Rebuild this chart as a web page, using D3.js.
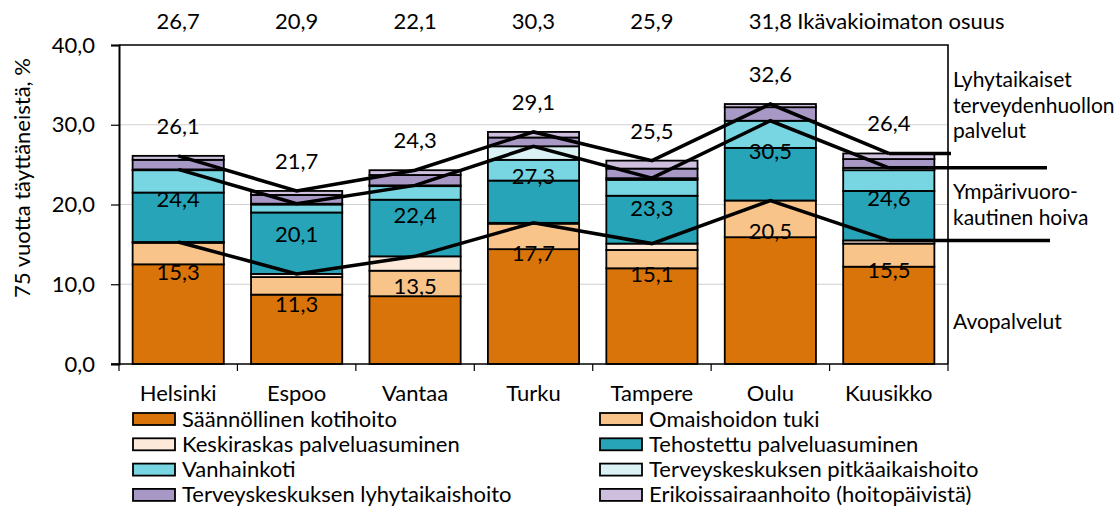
<!DOCTYPE html>
<html>
<head>
<meta charset="utf-8">
<script src="https://cdn.jsdelivr.net/npm/d3@7"></script>
<style>
  body { margin: 0; background: #fff; }
  svg text { font-family: Lato, "Open Sans", sans-serif; fill: #000; }
</style>
</head>
<body>
<svg width="1120" height="506"></svg>
<script>

// data (% of population aged 75+)

var cities = ["Helsinki", "Espoo", "Vantaa", "Turku", "Tampere", "Oulu", "Kuusikko"]

var kotihoito    = [12.5, 8.7, 8.5, 14.4, 12.0, 15.9, 12.2]
var omaishoito   = [2.7, 2.2, 3.2, 3.2, 2.3, 4.6, 2.9]
var keskiraskas  = [0.1, 0.4, 1.8, 0.1, 0.8, 0.0, 0.4]
var tehostettu   = [6.2, 7.7, 7.1, 5.3, 6.0, 6.6, 6.2]
var vanhainkoti  = [2.8, 1.0, 1.7, 2.6, 2.0, 3.4, 2.6]
var tk_pitka     = [0.1, 0.1, 0.1, 1.7, 0.2, 0.0, 0.3]
var tk_lyhyt     = [1.2, 1.1, 1.3, 1.1, 1.2, 1.7, 1.1]
var erikois      = [0.5, 0.5, 0.6, 0.7, 1.0, 0.4, 0.7]

// unadjusted share, shown above the plot (no value for Kuusikko)
var unadjusted = [26.7, 20.9, 22.1, 30.3, 25.9, 31.8]

var yTicks = [0, 10, 20, 30, 40]

var seriesNames = [
  "Säännöllinen kotihoito", "Omaishoidon tuki",
  "Keskiraskas palveluasuminen", "Tehostettu palveluasuminen",
  "Vanhainkoti", "Terveyskeskuksen pitkäaikaishoito",
  "Terveyskeskuksen lyhytaikaishoito", "Erikoissairaanhoito (hoitopäivistä)"
]
var seriesValues = [kotihoito, omaishoito, keskiraskas, tehostettu, vanhainkoti, tk_pitka, tk_lyhyt, erikois]
var colors = ["#d8740a", "#f8c48a", "#fde9da", "#27a4b7", "#78d6e2", "#dbf2f4", "#a898c6", "#cdbfdd"]

var fmt = function(v){ return v.toFixed(1).replace(".", ",") }

// build rows for d3.stack
var rows = cities.map(function(c, i){
  var r = {city: c}
  seriesNames.forEach(function(s, j){ r[s] = seriesValues[j][i] })
  return r
})

var stacked = d3.stack().keys(seriesNames)(rows)

// cumulative lines: avopalvelut (first 3), ympärivuorokautinen hoiva (first 6), total (all 8)
var lineDefs = [
  {upTo: 2, below: true, extEnd: 1050},
  {upTo: 5, below: true, extEnd: 1047},
  {upTo: 7, below: false, extEnd: 951}
]

var svg = d3.select("svg")

var plotL = 119, plotR = 948, plotT = 45, plotB = 364

var x = d3.scaleBand().domain(cities).range([plotL, plotR]).paddingInner(0.23).paddingOuter(0.115)
var y = d3.scaleLinear().domain([0, 40]).range([plotB, plotT])

// gridlines
svg.append("g").selectAll("line").data(yTicks.filter(function(d){ return d > 0 && d < 40 }))
  .enter().append("line")
    .attr("x1", plotL).attr("x2", plotR)
    .attr("y1", function(d){ return y(d) }).attr("y2", function(d){ return y(d) })
    .style("stroke", "#d0d0d0").style("stroke-width", 1.2)

// bars
svg.append("g").selectAll("g").data(stacked).enter().append("g")
    .style("fill", function(d, i){ return colors[i] })
  .selectAll("rect").data(function(d){ return d }).enter().append("rect")
    .attr("x", function(d){ return x(d.data.city) })
    .attr("width", x.bandwidth())
    .attr("y", function(d){ return y(d[1]) })
    .attr("height", function(d){ return y(d[0]) - y(d[1]) })
    .style("stroke", "#000").style("stroke-width", 1.8)

// frame
svg.append("path")
  .attr("d", "M" + plotL + "," + plotT + "H" + plotR + "V" + plotB)
  .style("fill", "none").style("stroke", "#000").style("stroke-width", 1.6)

// y axis
var yAxis = svg.append("g").attr("transform", "translate(" + plotL + ",0)")
  .call(d3.axisLeft(y).tickValues(yTicks).tickSize(8).tickFormat(fmt))
yAxis.select(".domain").style("stroke", "#000").style("stroke-width", 2)
yAxis.selectAll(".tick line").style("stroke", "#000").style("stroke-width", 1.2)
yAxis.selectAll(".tick text").attr("x", -24).style("font-size", "22px").style("font-family", "Lato")

// x axis with ticks between categories
var xAxis = svg.append("g").attr("transform", "translate(0," + plotB + ")")
xAxis.append("line").attr("x1", plotL - 8).attr("x2", plotR)
  .style("stroke", "#000").style("stroke-width", 1.6)
xAxis.selectAll(".sep").data(d3.range(cities.length + 1)).enter().append("line")
    .attr("class", "sep")
    .attr("x1", function(i){ return plotL + i * x.step() })
    .attr("x2", function(i){ return plotL + i * x.step() })
    .attr("y1", 0).attr("y2", 7)
    .style("stroke", "#000").style("stroke-width", 1.2)
xAxis.selectAll(".lbl").data(cities).enter().append("text")
    .attr("class", "lbl")
    .attr("x", function(d){ return x(d) + x.bandwidth() / 2 })
    .attr("y", 37)
    .attr("text-anchor", "middle")
    .style("font-size", "22px")
    .text(function(d){ return d })

// y title
svg.append("text")
  .attr("transform", "translate(30,178) rotate(-90)")
  .attr("text-anchor", "middle")
  .style("font-size", "22px")
  .text("75 vuotta täyttäneistä, %")

// cumulative lines + labels
var cx = function(c){ return x(c) + x.bandwidth() / 2 }

lineDefs.forEach(function(ld){
  var pts = stacked[ld.upTo].map(function(d){ return {city: d.data.city, v: d[1]} })
  var path = d3.line().x(function(d){ return cx(d.city) }).y(function(d){ return y(d.v) })
  svg.append("path").datum(pts)
    .attr("d", path)
    .style("fill", "none").style("stroke", "#000").style("stroke-width", 3.5)
    .style("stroke-linejoin", "miter")
  var last = pts[pts.length - 1]
  svg.append("line")
    .attr("x1", cx(last.city)).attr("x2", ld.extEnd)
    .attr("y1", y(last.v)).attr("y2", y(last.v))
    .style("stroke", "#000").style("stroke-width", 3.5)
  svg.append("g").selectAll("text").data(pts).enter().append("text")
    .attr("x", function(d){ return cx(d.city) })
    .attr("y", function(d){ return ld.below ? y(d.v) + 38 : y(d.v) - 22 })
    .attr("text-anchor", "middle")
    .style("font-size", "22px")
    .text(function(d){ return fmt(d.v) })
})

// unadjusted share on top
svg.append("g").selectAll("text").data(unadjusted).enter().append("text")
    .attr("x", function(d, i){ return cx(cities[i]) })
    .attr("y", 29)
    .attr("text-anchor", "middle")
    .style("font-size", "22px")
    .text(function(d){ return fmt(d) })
svg.append("text")
  .attr("x", cx(cities[5]) + 27).attr("y", 29)
  .style("font-size", "22px")
  .text("Ikävakioimaton osuus")

// right side annotations
var notes = [
  {lines: ["Lyhytaikaiset", "terveydenhuollon", "palvelut"], y: 87},
  {lines: ["Ympärivuoro-", "kautinen hoiva"], y: 199},
  {lines: ["Avopalvelut"], y: 329}
]
notes.forEach(function(n){
  n.lines.forEach(function(t, k){
    svg.append("text").attr("x", 953).attr("y", n.y + k * 25.5)
      .style("font-size", "21px").text(t)
  })
})

// legend, two columns
var legend = svg.append("g")
seriesNames.forEach(function(s, i){
  var col = i % 2, row = Math.floor(i / 2)
  var lx = col === 0 ? 133 : 600
  var ly = 419 + row * 25.3
  legend.append("rect").attr("x", lx).attr("y", ly - 6).attr("width", 42).attr("height", 12)
    .style("fill", colors[i]).style("stroke", "#000").style("stroke-width", 1.8)
  legend.append("text").attr("x", lx + 49).attr("y", ly + 7.5)
    .style("font-size", "22px").text(s)
})

</script>
</body>
</html>
